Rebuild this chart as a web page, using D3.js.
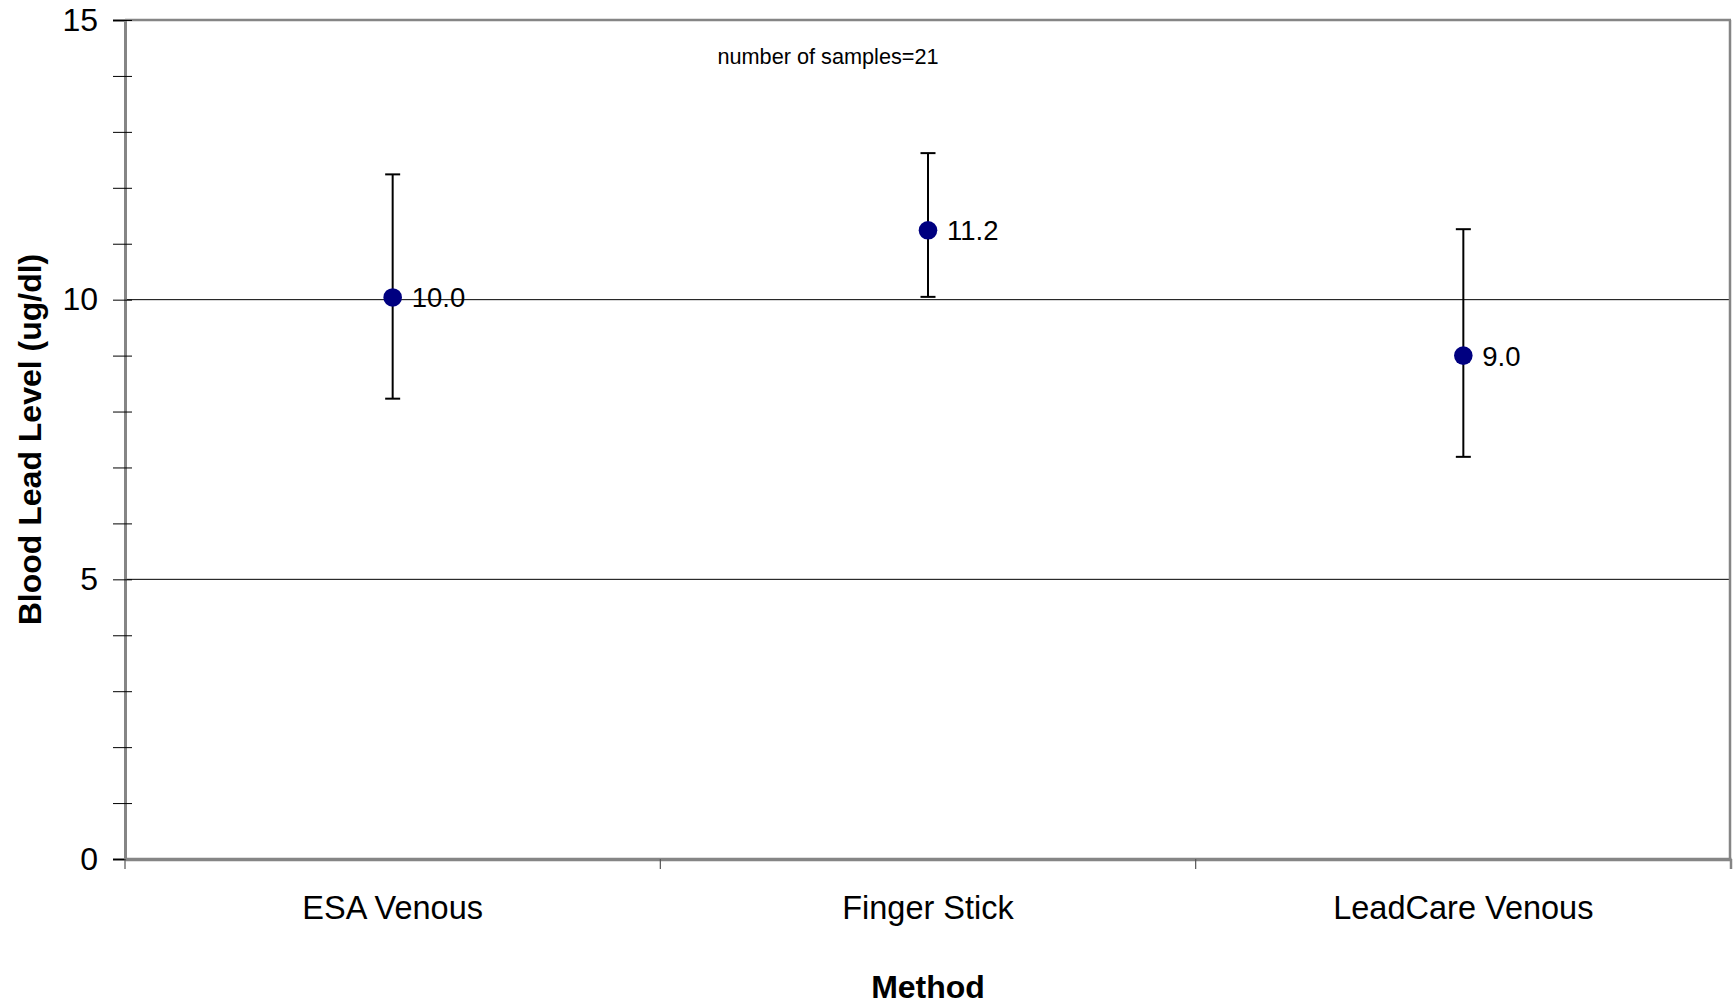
<!DOCTYPE html>
<html>
<head>
<meta charset="utf-8">
<script src="https://cdn.jsdelivr.net/npm/d3@7"></script>
<style>
  html, body { margin: 0; padding: 0; background: #fff; }
  svg { display: block; font-family: "Liberation Sans", Arial, Helvetica, sans-serif; }
</style>
</head>
<body>
<svg id="chart" width="1735" height="1007"></svg>
<script>
// Blood lead level by measurement method (mean with range bars)
const methods = ["ESA Venous", "Finger Stick", "LeadCare Venous"];
const means = [10.04, 11.24, 9.0];
const upper = [12.24, 12.62, 11.26];
const lower = [8.23, 10.05, 7.19];
const yMajorTicks = [0, 5, 10, 15];
const yMinorTicks = d3.range(0, 16, 1);
const sampleNote = "number of samples=21";

const W = 1735, H = 1007;
const margin = { top: 20, right: 4, bottom: 148, left: 125 };
const svg = d3.select("#chart");

const x = d3.scaleBand().domain(methods).range([margin.left, W - margin.right]).padding(0);
const y = d3.scaleLinear().domain([0, 15]).range([H - margin.bottom, margin.top]);

const frameColor = "#858585";

// horizontal grid lines at the major values
svg.append("g")
  .selectAll("line")
  .data(yMajorTicks.filter(d => d > 0 && d < 15))
  .join("line")
  .attr("x1", margin.left).attr("x2", W - margin.right)
  .attr("y1", d => y(d)).attr("y2", d => y(d))
  .attr("stroke", "#000").attr("stroke-width", 1);

// plot frame: top and right borders
svg.append("line")
  .attr("x1", margin.left).attr("x2", W - margin.right)
  .attr("y1", y(15)).attr("y2", y(15))
  .attr("stroke", frameColor).attr("stroke-width", 2.5);
svg.append("line")
  .attr("x1", W - margin.right - 1).attr("x2", W - margin.right - 1)
  .attr("y1", y(15)).attr("y2", y(0))
  .attr("stroke", frameColor).attr("stroke-width", 2.5);

// y axis with minor ticks crossing the axis line
const yAxis = d3.axisLeft(y)
  .tickValues(yMinorTicks)
  .tickSize(12)
  .tickPadding(15)
  .tickFormat(d => yMajorTicks.includes(d) ? d3.format("d")(d) : "");
const gy = svg.append("g").attr("transform", `translate(${margin.left},0)`).call(yAxis);
gy.select(".domain").attr("stroke", frameColor).attr("stroke-width", 3);
gy.selectAll(".tick line").attr("x1", 7).attr("stroke", "#000").attr("stroke-width", 1);
gy.selectAll(".tick text")
  .attr("font-size", 32).attr("fill", "#000")
  .attr("font-family", "'Liberation Sans', Arial, sans-serif");

// x axis: ticks at category boundaries
const xAxis = d3.axisBottom(x).tickSize(0).tickPadding(0).tickFormat("");
const gx = svg.append("g").attr("transform", `translate(0,${y(0)})`).call(xAxis);
gx.select(".domain").attr("stroke", frameColor).attr("stroke-width", 3.5);
gx.selectAll(".tick").remove();
const boundaries = methods.map(m => x(m)).concat([x(methods[methods.length - 1]) + x.bandwidth()]);
gx.selectAll(".bound")
  .data(boundaries)
  .join("line")
  .attr("class", "bound")
  .attr("x1", d => d).attr("x2", d => d)
  .attr("y1", 0).attr("y2", 10)
  .attr("stroke", (d, i) => i === boundaries.length - 1 ? frameColor : "#555")
  .attr("stroke-width", (d, i) => i === boundaries.length - 1 ? 2.5 : 1.2);

// category labels
svg.append("g")
  .selectAll("text")
  .data(methods)
  .join("text")
  .attr("x", d => x(d) + x.bandwidth() / 2)
  .attr("y", 919)
  .attr("text-anchor", "middle")
  .attr("font-size", 32.5)
  .text(d => d);

// range bars
const capHalf = 7.5;
const bars = svg.append("g").selectAll("g")
  .data(methods.map((m, i) => ({ m, mean: means[i], hi: upper[i], lo: lower[i] })))
  .join("g");
bars.append("line")
  .attr("x1", d => x(d.m) + x.bandwidth() / 2).attr("x2", d => x(d.m) + x.bandwidth() / 2)
  .attr("y1", d => y(d.hi)).attr("y2", d => y(d.lo))
  .attr("stroke", "#000").attr("stroke-width", 2);
bars.append("line")
  .attr("x1", d => x(d.m) + x.bandwidth() / 2 - capHalf).attr("x2", d => x(d.m) + x.bandwidth() / 2 + capHalf)
  .attr("y1", d => y(d.hi)).attr("y2", d => y(d.hi))
  .attr("stroke", "#000").attr("stroke-width", 2);
bars.append("line")
  .attr("x1", d => x(d.m) + x.bandwidth() / 2 - capHalf).attr("x2", d => x(d.m) + x.bandwidth() / 2 + capHalf)
  .attr("y1", d => y(d.lo)).attr("y2", d => y(d.lo))
  .attr("stroke", "#000").attr("stroke-width", 2);

// mean markers and value labels
bars.append("circle")
  .attr("cx", d => x(d.m) + x.bandwidth() / 2)
  .attr("cy", d => y(d.mean))
  .attr("r", 9.3)
  .attr("fill", "#000080");
bars.append("text")
  .attr("x", d => x(d.m) + x.bandwidth() / 2 + 19)
  .attr("y", d => y(d.mean))
  .attr("dy", "0.36em")
  .attr("font-size", 27.5)
  .text(d => d3.format(".1f")(d.mean));

// sample count note
svg.append("text")
  .attr("x", 828).attr("y", 64)
  .attr("text-anchor", "middle")
  .attr("font-size", 21.7)
  .text(sampleNote);

// axis titles
svg.append("text")
  .attr("x", (margin.left + W - margin.right) / 2)
  .attr("y", 998)
  .attr("text-anchor", "middle")
  .attr("font-size", 32)
  .attr("font-weight", "bold")
  .text("Method");
svg.append("text")
  .attr("transform", `translate(41,${(y(0) + y(15)) / 2}) rotate(-90)`)
  .attr("text-anchor", "middle")
  .attr("font-size", 32)
  .attr("font-weight", "bold")
  .text("Blood Lead Level (ug/dl)");
</script>
</body>
</html>
